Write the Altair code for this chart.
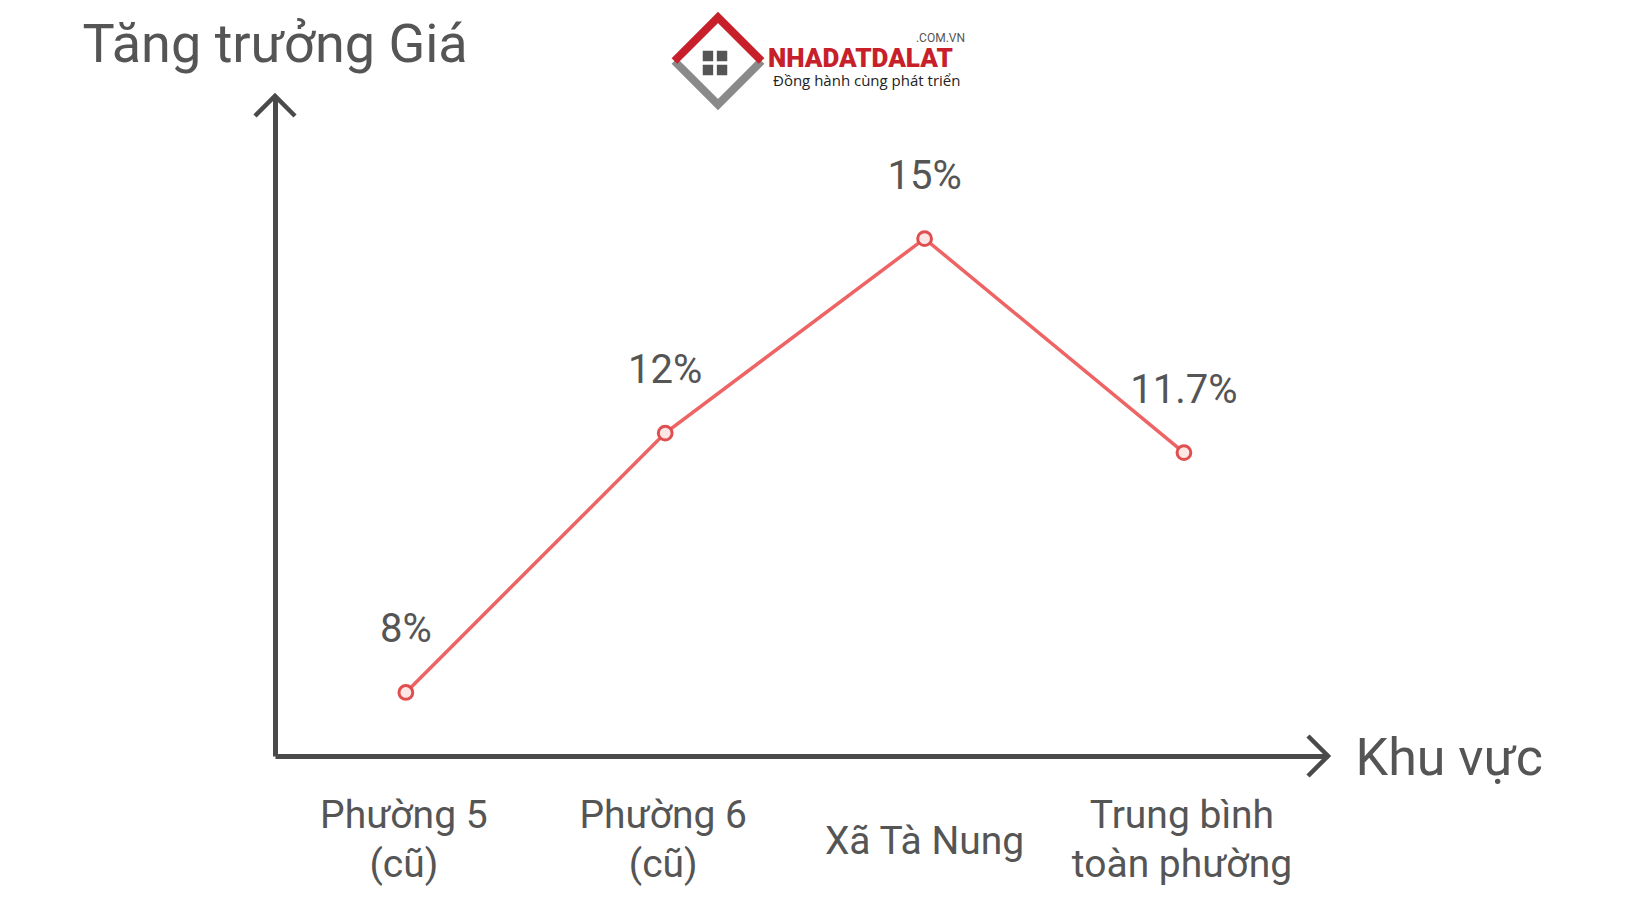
import altair as alt
import pandas as pd

categories = ["Phường 5\n(cũ)", "Phường 6\n(cũ)", "Xã Tà Nung", "Trung bình\ntoàn phường"]
line_counts = [2, 2, 1, 2]
growth = [8, 12, 15, 11.7]
value_labels = ["8%", "12%", "15%", "11.7%"]

df = pd.DataFrame({"cat": categories, "val": growth, "lbl": value_labels, "n": line_counts})
one = pd.DataFrame({"a": [0]})

FONT = "Roboto"
TXT = "#555555"
AXC = "#4a4a4a"
RED = "#EE6464"
H = 660
W = 1053

x_enc = alt.X(
    "cat:N", sort=categories,
    scale=alt.Scale(type="point", padding=0.53, align=0.476),
    axis=alt.Axis(
        title="Khu vực", titleX=1080, titleY=2, titleAlign="left", titleBaseline="middle",
        titleFontSize=52, titleFont=FONT, titleFontWeight="normal", titleColor=TXT,
        labels=False, ticks=False, grid=False,
        domain=True, domainColor=AXC, domainWidth=5,
    ),
)
y_enc = alt.Y(
    "val:Q",
    scale=alt.Scale(domain=[7.02, 17.2], nice=False, zero=False),
    axis=alt.Axis(
        title="Tăng trưởng Giá", titleAngle=0, titleX=-193, titleY=-51, titleAlign="left",
        titleBaseline="middle", titleFontSize=54, titleFont=FONT, titleFontWeight="normal",
        titleColor=TXT, labels=False, ticks=False, grid=False,
        domain=True, domainColor=AXC, domainWidth=5,
    ),
)

base = alt.Chart(df).encode(x=x_enc, y=y_enc)
line = base.mark_line(color=RED, strokeWidth=3.5)
pts = base.mark_point(shape="circle", size=190, filled=True, fill="#fde6e6",
                      stroke="#E04F4F", strokeWidth=3, opacity=1)
labels = base.mark_text(dy=-62, fontSize=40, font=FONT, color=TXT,
                        baseline="middle", align="center").encode(text="lbl:N")

cat_two = alt.Chart(df).transform_filter("datum.n == 2").mark_text(
    fontSize=39, font=FONT, color=TXT, baseline="middle", align="center",
    lineBreak="\n", lineHeight=49, dx=-2).encode(
    x=alt.X("cat:N", sort=categories), y=alt.value(720), text="cat:N")
cat_one = alt.Chart(df).transform_filter("datum.n == 1").mark_text(
    fontSize=39, font=FONT, color=TXT, baseline="middle", align="center").encode(
    x=alt.X("cat:N", sort=categories), y=alt.value(746), text="cat:N")

arrow_y = alt.Chart(one).mark_point(shape="M -1 1 L 0 0 L 1 1", size=1600, filled=False,
                                    stroke=AXC, strokeWidth=4.5, opacity=1).encode(
    x=alt.value(0), y=alt.value(0))
arrow_x = alt.Chart(one).mark_point(shape="M -1 -1 L 0 0 L -1 1", size=1600, filled=False,
                                    stroke=AXC, strokeWidth=4.5, opacity=1).encode(
    x=alt.value(W), y=alt.value(H))

# logo (decoration)
house_bottom = alt.Chart(one).mark_point(shape="M -1 0 L 0 1 L 1 0", size=7600, filled=False,
                                         stroke="#8a8a8a", strokeWidth=8, opacity=1).encode(
    x=alt.value(443), y=alt.value(-35))
house_roof = alt.Chart(one).mark_point(shape="M -1 0 L 0 -1 L 1 0", size=7600, filled=False,
                                       stroke="#C8202A", strokeWidth=8, opacity=1).encode(
    x=alt.value(443), y=alt.value(-35))
window = alt.Chart(one).mark_point(
    shape="M -1 -1 h 0.85 v 0.85 h -0.85 Z M 0.15 -1 h 0.85 v 0.85 h -0.85 Z "
          "M -1 0.15 h 0.85 v 0.85 h -0.85 Z M 0.15 0.15 h 0.85 v 0.85 h -0.85 Z",
    size=600, filled=True, fill="#555555", strokeWidth=0, opacity=1).encode(
    x=alt.value(440), y=alt.value(-33))
brand = alt.Chart(one).mark_text(text="NHADATDALAT", fontSize=26, font=FONT, fontWeight=900,
                                 color="#C8202A", align="left", baseline="middle").encode(
    x=alt.value(493), y=alt.value(-37))
dotcom = alt.Chart(one).mark_text(text=".COM.VN", fontSize=12, font=FONT,
                                  color="#555555", align="right", baseline="middle").encode(
    x=alt.value(690), y=alt.value(-58))
slogan = alt.Chart(one).mark_text(text="Đồng hành cùng phát triển", fontSize=15, font="Open Sans",
                                  color="#222222", align="left", baseline="middle").encode(
    x=alt.value(498), y=alt.value(-15))

chart = alt.layer(line, pts, labels, cat_two, cat_one, arrow_y, arrow_x, house_bottom,
                  house_roof, window, brand, dotcom, slogan).properties(
    width=W, height=H,
    background="white",
    autosize=alt.AutoSizeParams(type="none"),
    padding={"left": 267, "top": 88, "right": 290, "bottom": 150},
).configure_view(strokeWidth=0, stroke=None)

chart.save("out.html", embed_options={"renderer": "svg", "actions": False})
